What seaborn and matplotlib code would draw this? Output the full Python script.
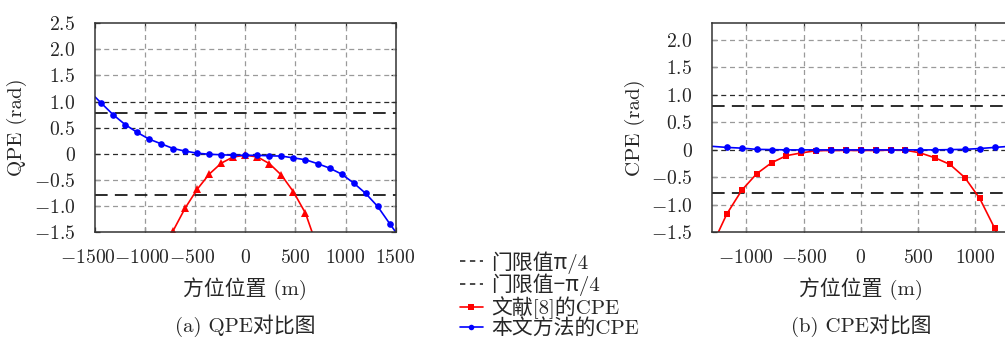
import numpy as np
import pandas as pd
import matplotlib
matplotlib.use('Agg')
import matplotlib.pyplot as plt
import matplotlib.transforms as mtransforms
import seaborn as sns
from matplotlib.lines import Line2D

# ---------------- data ----------------
# (a) QPE comparison
qpe_blue_x = [-1500, -1440, -1320, -1200, -1080, -960, -840, -720, -600, -480, -360, -240, -120,
              0, 120, 240, 360, 480, 600, 720, 840, 960, 1080, 1200, 1320, 1440, 1500]
qpe_blue_y = [1.09, 0.975, 0.75, 0.56, 0.41, 0.28, 0.19, 0.10, 0.05, 0.01, -0.01, -0.02, -0.03,
              -0.03, -0.03, -0.04, -0.045, -0.08, -0.115, -0.19, -0.275, -0.39, -0.56, -0.76, -1.01, -1.34, -1.50]
qpe_red_x = [-840, -720, -600, -480, -360, -240, -120, 0, 120, 240, 360, 480, 600, 720]
qpe_red_y = [-2.00, -1.475, -1.04, -0.68, -0.39, -0.18, -0.06, -0.03, -0.06, -0.19, -0.41, -0.73, -1.14, -1.80]

# (b) CPE comparison
cpe_x = [-1300, -1170, -1040, -910, -780, -650, -520, -390, -260, -130, 0,
         130, 260, 390, 520, 650, 780, 910, 1040, 1170, 1300]
cpe_blue_y = [0.06, 0.04, 0.027, 0.005, 0.0, -0.005, -0.005, -0.005, -0.005, -0.005, -0.005,
              -0.005, -0.005, -0.005, -0.005, -0.005, 0.0, 0.005, 0.02, 0.04, 0.06]
cpe_red_y = [-1.75, -1.17, -0.74, -0.44, -0.24, -0.11, -0.06, -0.02, -0.015, -0.015, -0.015,
             -0.015, -0.01, -0.01, -0.06, -0.15, -0.27, -0.51, -0.89, -1.43, -2.10]

threshold = np.pi / 4

qpe_xticks = [-1500, -1000, -500, 0, 500, 1000, 1500]
qpe_xticklabels = ['$-1500$', '$-1000$', '$-500$', '$0$', '$500$', '$1000$', '$1500$']
qpe_yticks = [-1.5, -1.0, -0.5, 0, 0.5, 1.0, 1.5, 2.0, 2.5]
qpe_yticklabels = ['$-1.5$', '$-1.0$', '$-0.5$', '$0$', '$0.5$', '$1.0$', '$1.5$', '$2.0$', '$2.5$']
cpe_xticks = [-1000, -500, 0, 500, 1000]
cpe_xticklabels = ['$-1000$', '$-500$', '$0$', '$500$', '$1000$']
cpe_yticks = [-1.5, -1.0, -0.5, 0, 0.5, 1.0, 1.5, 2.0]
cpe_yticklabels = ['$-1.5$', '$-1.0$', '$-0.5$', '$0$', '$0.5$', '$1.0$', '$1.5$', '$2.0$']

legend_labels = ['门限值π/4', '门限值−π/4', '文献[8]的CPE', '本文方法的CPE']
xlabel_text = '方位位置 (m)'
ylabel_a = 'QPE (rad)'
ylabel_b = 'CPE (rad)'
title_a = '(a) QPE对比图'
title_b = '(b) CPE对比图'

# ---------------- style ----------------
sns.set_theme(style='white')
plt.rcParams['font.family'] = ['cmr10', 'Noto Sans CJK SC', 'DejaVu Sans']
plt.rcParams['mathtext.fontset'] = 'cm'
plt.rcParams['axes.unicode_minus'] = True

W, H = 1005, 338
fig = plt.figure(figsize=(W / 100, H / 100), dpi=100)

def px_axes(x0, x1, ytop, ybot):
    return fig.add_axes([x0 / W, 1 - ybot / H, (x1 - x0) / W, (ybot - ytop) / H])

ax1 = px_axes(95, 395.7, 23.3, 232)
ax2 = px_axes(712, 1009.5, 23.3, 232)

grid_kw = dict(color='#9a9a9a', lw=0.9, dashes=(4, 3))
dark_kw = dict(color='#2a2a2a', lw=0.9, dashes=(4, 3))
thr_kw = dict(color='#1a1a1a', lw=1.3, dashes=(7, 4))

TICK_FS = 14.2
LABEL_FS = 15

def style_axes(ax, xlim, ylim, xticks, xtl, yticks, ytl, dark_levels):
    ax.set_xlim(*xlim)
    ax.set_ylim(*ylim)
    ax.set_xticks(xticks)
    ax.set_xticklabels(xtl, fontsize=TICK_FS)
    ax.set_yticks(yticks)
    ax.set_yticklabels(ytl, fontsize=TICK_FS)
    for xv in xticks:
        if xlim[0] < xv < xlim[1]:
            ax.axvline(xv, zorder=1, **grid_kw)
    for yv in yticks:
        if ylim[0] < yv < ylim[1]:
            kw = dark_kw if yv in dark_levels else grid_kw
            ax.axhline(yv, zorder=1, **kw)
    ax.axhline(threshold, zorder=1.5, **thr_kw)
    ax.axhline(-threshold, zorder=1.5, **thr_kw)
    ax.tick_params(direction='in', length=3.5, width=0.9, color='#333333',
                   top=True, right=True, bottom=True, left=True)
    ax.tick_params(axis='y', pad=14)
    ax.tick_params(axis='x', pad=12)
    for s in ax.spines.values():
        s.set_color('#333333')
        s.set_linewidth(1.1)
        s.set_zorder(5)

style_axes(ax1, (-1500, 1500), (-1.5, 2.5), qpe_xticks, qpe_xticklabels,
           qpe_yticks, qpe_yticklabels, [1.0, 0.5, 0])
style_axes(ax2, (-1300, 1300), (-1.5, 2.3), cpe_xticks, cpe_xticklabels,
           cpe_yticks, cpe_yticklabels, [1.0, 0])

# negative x tick labels sit slightly left of their ticks, as in the reference
for lab, dx in zip(ax1.get_xticklabels()[:3], (-7, -3, -3)):
    lab.set_transform(lab.get_transform() + mtransforms.ScaledTranslation(dx / 100, 0, fig.dpi_scale_trans))

line_kw = dict(linewidth=1.2, markeredgewidth=0, sort=False, errorbar=None, zorder=3)

sns.lineplot(x=qpe_red_x, y=qpe_red_y, ax=ax1, color='#ff0000', marker='^', markersize=5.5, **line_kw)
sns.lineplot(x=qpe_blue_x, y=qpe_blue_y, ax=ax1, color='#0000ff', marker='o', markersize=4.8,
             markevery=list(range(1, len(qpe_blue_x) - 1)), **line_kw)
sns.lineplot(x=cpe_x, y=cpe_red_y, ax=ax2, color='#ff0000', marker='s', markersize=4.5,
             markevery=list(range(1, len(cpe_x) - 1)), **line_kw)
sns.lineplot(x=cpe_x, y=cpe_blue_y, ax=ax2, color='#0000ff', marker='o', markersize=4.8,
             markevery=list(range(1, len(cpe_x) - 1)), **line_kw)

for ax, yl in ((ax1, ylabel_a), (ax2, ylabel_b)):
    ax.set_xlabel(xlabel_text, fontsize=LABEL_FS)
    ax.set_ylabel(yl, fontsize=LABEL_FS)
    ax.xaxis.set_label_coords(0.5, -0.215)
ax1.yaxis.set_label_coords(-0.225, 0.5)
ax2.yaxis.set_label_coords(-0.225, 0.5)

fig.text(245 / W, 1 - 326 / H, title_a, ha='center', va='center', fontsize=LABEL_FS)
fig.text(861 / W, 1 - 326 / H, title_b, ha='center', va='center', fontsize=LABEL_FS)

handles = [
    Line2D([], [], color='#1a1a1a', lw=1.1, dashes=(3.5, 3)),
    Line2D([], [], color='#1a1a1a', lw=1.1, dashes=(3.5, 3)),
    Line2D([], [], color='#ff0000', lw=1.2, marker='s', markersize=4, markeredgewidth=0),
    Line2D([], [], color='#0000ff', lw=1.2, marker='o', markersize=4, markeredgewidth=0),
]
fig.legend(handles, legend_labels, loc='upper left', bbox_to_anchor=(460 / W, 1 - 251 / H),
           frameon=False, fontsize=15, handlelength=1.1, handletextpad=0.4,
           labelspacing=0.0, borderpad=0, borderaxespad=0)

fig.savefig('out.png', dpi=100)
